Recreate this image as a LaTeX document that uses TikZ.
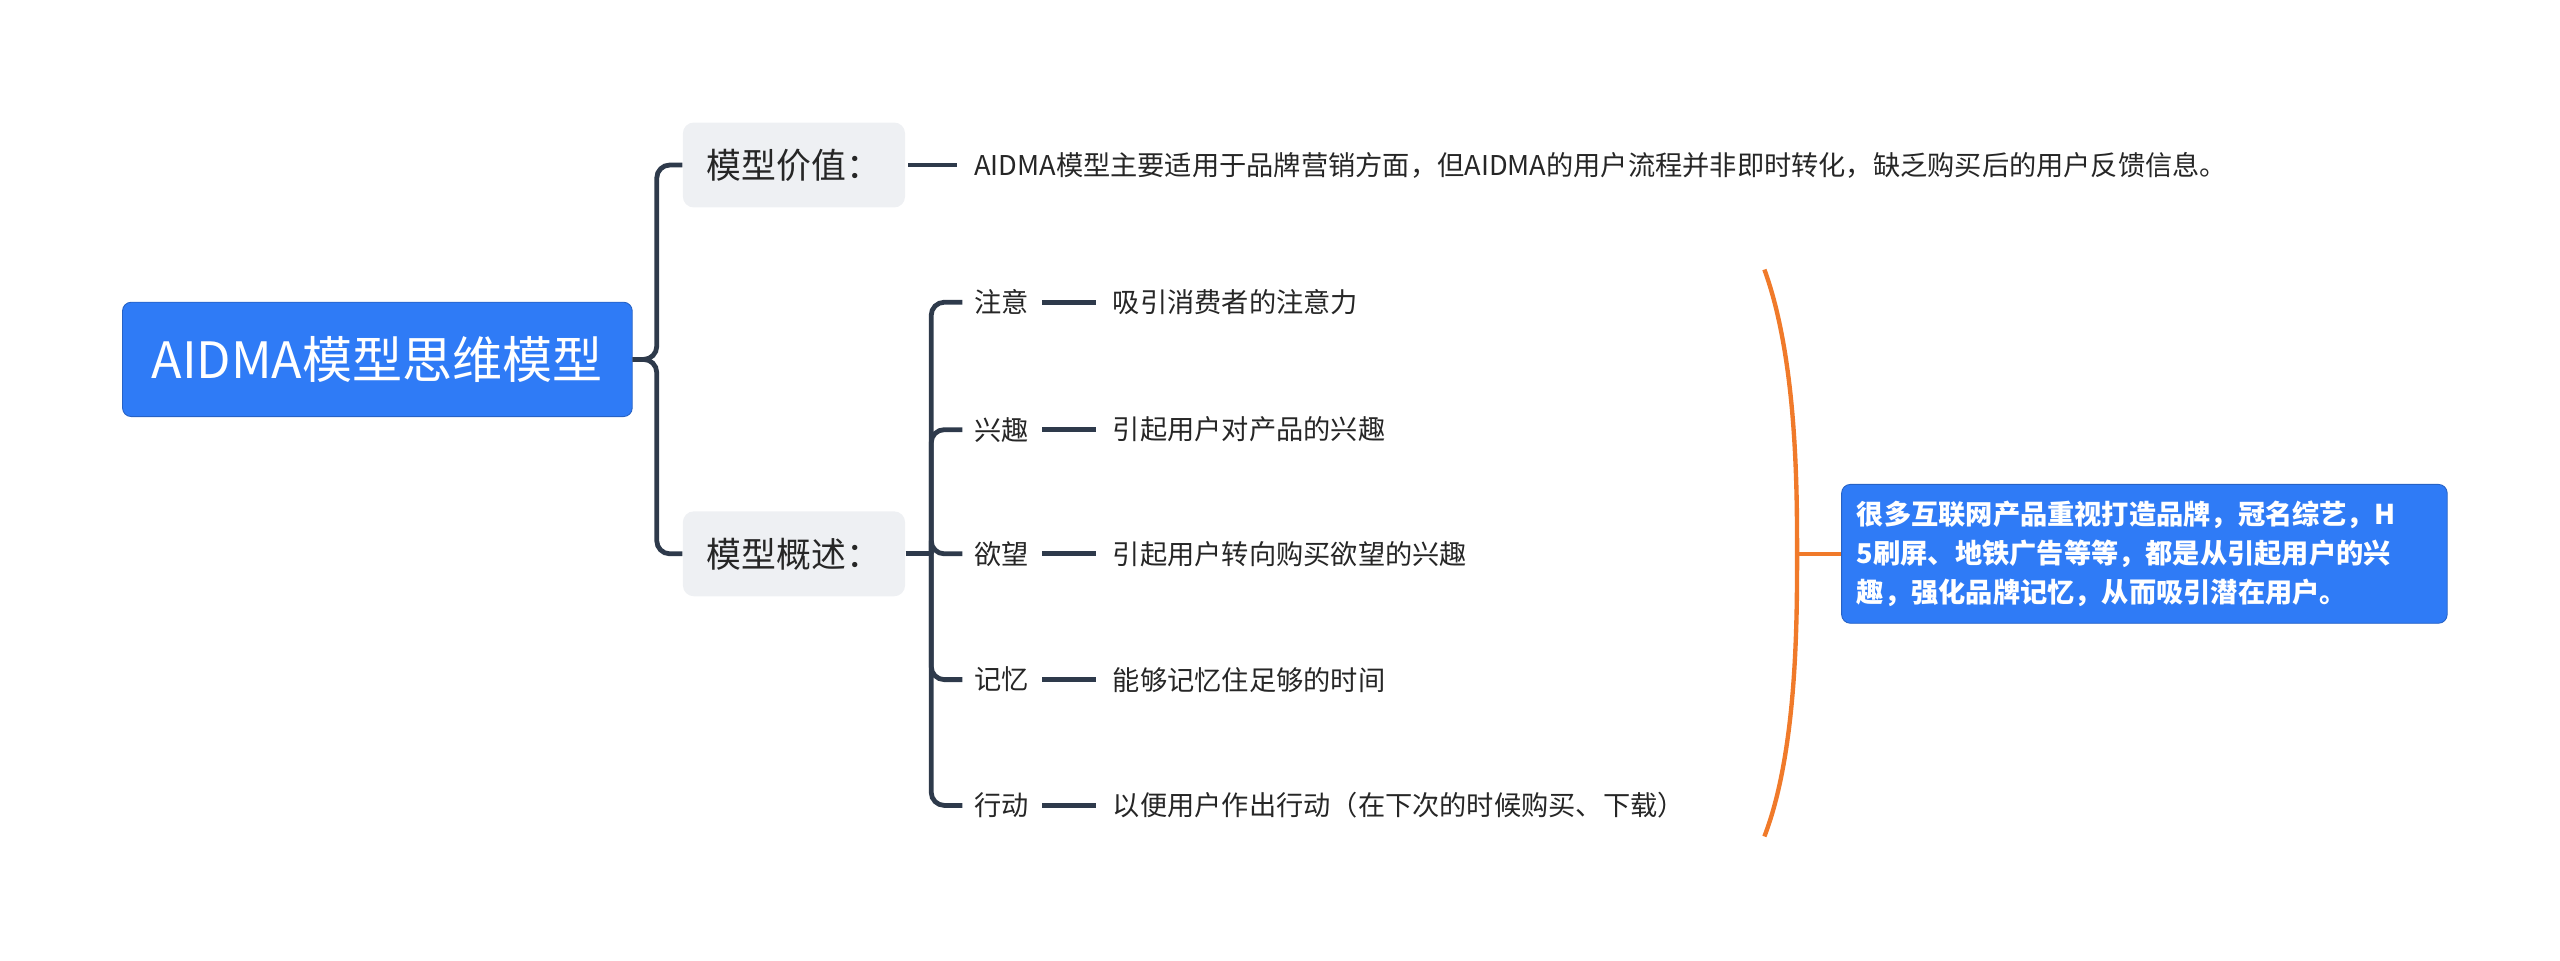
\documentclass[tikz,border=0pt]{standalone}
\usepackage{fontspec}
\setmainfont{Noto Sans CJK SC}
\usetikzlibrary{calc}
\definecolor{rootblue}{HTML}{2F7BF6}
\definecolor{boxgrey}{HTML}{EEF0F3}
\definecolor{linedark}{HTML}{2E3A4B}
\definecolor{braceorange}{HTML}{F07A2A}
\begin{document}
\begin{tikzpicture}[x=0.75pt,y=-0.75pt]
        \tikzset{
            rootnode/.style={fill=rootblue,draw=rootblue!80!black,rounded corners=4pt,text=white,font=\fontsize{23}{27}\selectfont,minimum width=312*0.75pt,minimum height=70*0.75pt,inner sep=0pt},
            topicnode/.style={fill=boxgrey,rounded corners=5pt,font=\fontsize{16}{19}\selectfont,minimum width=136*0.75pt,minimum height=52*0.75pt,inner sep=0pt,text=black!85},
            leafnode/.style={font=\fontsize{12.5}{15}\selectfont,anchor=west,inner sep=0pt,text=black!85},
            link/.style={draw=linedark,line width=2.2pt,rounded corners=6pt},
        }
        \useasboundingbox (0,0) rectangle (1567,588);
        \node[rootnode] (root) at (231,220) {AIDMA模型思维模型};
        \node[topicnode] (value) at (486,101) {模型价值：};
        \node[topicnode] (outline) at (486,339) {模型概述：};
        \draw[link] (root.east) -- (402,220) |- (value.west);
        \draw[link] (root.east) -- (402,220) |- (outline.west);

        \node[leafnode] (valuetext) at (596,101) {AIDMA模型主要适用于品牌营销方面，但AIDMA的用户流程并非即时转化，缺乏购买后的用户反馈信息。};
        \draw[link] (556,101) -- (586,101);

        % stages
        \coordinate (fork) at (570,339);
        \draw[link] (outline.east) -- (fork);
        \foreach \name/\lbl/\desc/\yy in {
            attn/注意/吸引消费者的注意力/185,
            intr/兴趣/引起用户对产品的兴趣/263,
            desire/欲望/引起用户转向购买欲望的兴趣/339,
            memo/记忆/能够记忆住足够的时间/416,
            act/行动/以便用户作出行动（在下次的时候购买、下载）/493} {
            \node[leafnode] (\name) at (596,\yy) {\lbl};
            \node[leafnode] (\name d) at (681,\yy) {\desc};
            \draw[link] (fork) |- ($(\name.west)+(-7,0)$);
            \draw[link] ($(\name.east)+(8,0)$) -- ($(\name d.west)+(-10,0)$);
        }

        % summary
        \node[fill=rootblue,draw=rootblue!80!black,rounded corners=4pt,text=white,font=\fontsize{12.5}{18}\selectfont\bfseries,text width=352*0.75pt,minimum height=85*0.75pt,inner sep=7pt,anchor=west,align=left] (summary) at (1127,339) {很多互联网产品重视打造品牌，冠名综艺，H\\5刷屏、地铁广告等等，都是从引起用户的兴\\趣，强化品牌记忆，从而吸引潜在用户。};
        \draw[draw=braceorange,line width=2pt] (1080,165) .. controls (1100,220) and (1100,300) .. (1100,339) .. controls (1100,380) and (1100,460) .. (1080,512);
        \draw[draw=braceorange,line width=2pt] (1100,339) -- (summary.west);
    \end{tikzpicture}
\end{document}
